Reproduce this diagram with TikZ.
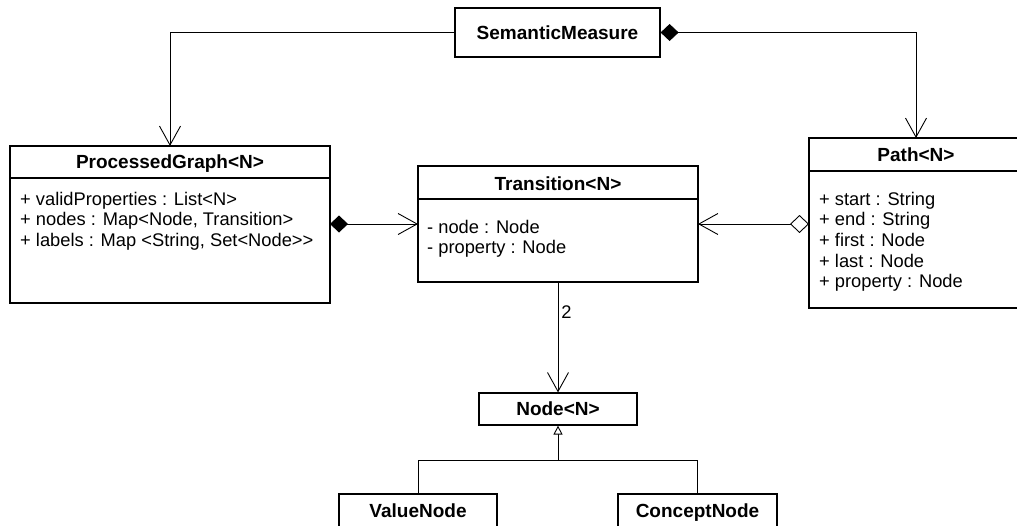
\documentclass[tikz,border=0pt]{standalone}
\usepackage{fontspec}
\setmainfont{Liberation Sans}
\usetikzlibrary{arrows.meta}
\begin{document}
\begin{tikzpicture}[x=1pt,y=-1pt,
  box/.style={draw,line width=1.2pt},
  title/.style={font=\fontsize{19}{21}\selectfont\bfseries,inner sep=0pt,anchor=base},
  attr/.style={font=\fontsize{18.3}{21}\selectfont,anchor=base west,inner sep=0pt},
  conn/.style={line width=0.9pt},
  openhead/.style={-{Straight Barb[length=19pt,width=21pt,line width=0.9pt]}},
  comp/.style={{Diamond[length=18pt,width=17pt]}-{Straight Barb[length=19pt,width=21pt,line width=0.9pt]}},
  aggr/.style={{Diamond[open,fill=white,length=19pt,width=18pt,line width=0.9pt]}-{Straight Barb[length=19pt,width=21pt,line width=0.9pt]}},
  gen/.style={-{Triangle[open,fill=white,length=9pt,width=9pt,line width=0.9pt]}}
]
\useasboundingbox (0,0) rectangle (1017,525);
\clip (0,0) rectangle (1017,525);
\fill[white] (0,0) rectangle (1017,525);

% SemanticMeasure
\node[box,minimum width=205pt,minimum height=49pt,inner sep=0pt] (sm) at (557.5,32.5) {};
\node[title] (smt) at (557.5,39) {SemanticMeasure};

% ProcessedGraph
\draw[box] (10,146) rectangle (330,303);
\draw[box] (10,178) -- (330,178);
\coordinate (pgN) at (170,146);
\coordinate (pgE) at (330,224);
\node[title] (pgt) at (170,168) {ProcessedGraph<N>};
\node[attr] (pg1) at (20,205) {+ validProperties : List<N>};
\node[attr] (pg2) at (20,225.7) {+ nodes : Map<Node, Transition>};
\node[attr] (pg3) at (20,246.4) {+ labels : Map <String, Set<Node>{}>};

% Transition
\draw[box] (418,166) rectangle (698,282);
\draw[box] (418,199) -- (698,199);
\coordinate (trW) at (418,224);
\coordinate (trE) at (698,224);
\coordinate (trS) at (558,282);
\node[title] (trt) at (558,190) {Transition<N>};
\node[attr] (tr1) at (427,233) {- node : Node};
\node[attr] (tr2) at (427,253.7) {- property : Node};

% Path
\draw[box] (809,138) rectangle (1023,308);
\draw[box] (809,171) -- (1023,171);
\coordinate (paN) at (916,138);
\coordinate (paW) at (809,224);
\node[title] (pat) at (916,161.5) {Path<N>};
\node[attr] (pa1) at (819,205) {+ start : String};
\node[attr] (pa2) at (819,225.7) {+ end : String};
\node[attr] (pa3) at (819,246.4) {+ first : Node};
\node[attr] (pa4) at (819,267.1) {+ last : Node};
\node[attr] (pa5) at (819,287.8) {+ property : Node};

% Node
\node[box,minimum width=158pt,minimum height=32pt,inner sep=0pt] (nd) at (558,409) {};
\node[title] (ndt) at (558,415.5) {Node<N>};

% ValueNode, ConceptNode
\node[box,minimum width=158pt,minimum height=33pt,inner sep=0pt] (vn) at (418,510.5) {};
\node[title] (vnt) at (418,517) {ValueNode};
\node[box,minimum width=159pt,minimum height=33pt,inner sep=0pt] (cn) at (697.5,510.5) {};
\node[title] (cnt) at (697.5,517) {ConceptNode};

% connectors
\draw[conn,openhead] (sm.west) -| (pgN);
\draw[conn,comp] (sm.east) -| (paN);
\draw[conn,comp] (pgE) -- (trW);
\draw[conn,aggr] (paW) -- (trE);
\draw[conn,openhead] (trS) -- node[pos=0.27,right=3pt,font=\fontsize{18.3}{21}\selectfont,inner sep=0pt] (two) {2} (nd.north);
\coordinate (jn) at (558,460);
\draw[conn] (vn.north) |- (jn);
\draw[conn] (cn.north) |- (jn);
\draw[conn,gen] (jn) -- (nd.south);
\end{tikzpicture}
\end{document}
